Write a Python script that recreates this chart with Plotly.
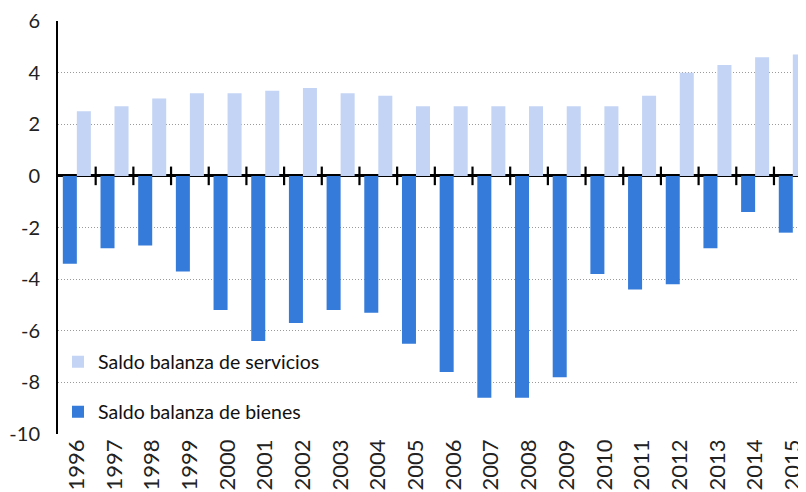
import plotly.graph_objects as go

years = [str(y) for y in range(1996, 2016)]
servicios = [2.5, 2.7, 3.0, 3.2, 3.2, 3.3, 3.4, 3.2, 3.1, 2.7, 2.7, 2.7, 2.7, 2.7, 2.7, 3.1, 4.0, 4.3, 4.6, 4.7]
bienes = [-3.4, -2.8, -2.7, -3.7, -5.2, -6.4, -5.7, -5.2, -5.3, -6.5, -7.6, -8.6, -8.6, -7.8, -3.8, -4.4, -4.2, -2.8, -1.4, -2.2]
y_ticks = [6, 4, 2, 0, -2, -4, -6, -8, -10]

LIGHT = "#C4D4F4"
DARK = "#357BDA"
FONT = "Lato"

fig = go.Figure()
fig.add_trace(go.Bar(x=years, y=bienes, name="Saldo balanza de bienes",
                     marker=dict(color=DARK, line=dict(width=0)), legend="legend2"))
fig.add_trace(go.Bar(x=years, y=servicios, name="Saldo balanza de servicios",
                     marker=dict(color=LIGHT, line=dict(width=0)), legend="legend"))

# category boundary tick marks on the zero line
for i in range(len(years) - 1):
    fig.add_shape(type="line", xref="x", yref="y", x0=i + 0.5, x1=i + 0.5,
                  y0=-0.36, y1=0.36, line=dict(color="black", width=2.2))

legend_style = dict(xanchor="left", yanchor="middle",
                    font=dict(family=FONT, size=19.5, color="#111"),
                    bgcolor="rgba(0,0,0,0)")

# page body has an 8px margin, figure sized to fit the 806x492 window
fig.update_layout(
    width=798, height=484,
    margin=dict(l=50, r=0, t=13, b=58, autoexpand=False),
    paper_bgcolor="white", plot_bgcolor="white",
    barmode="group", bargap=0.256, bargroupgap=0,
    showlegend=True,
    legend=dict(x=0.0, y=0.174, **legend_style),
    legend2=dict(x=0.0, y=0.053, **legend_style),
    font=dict(family=FONT, size=19, color="#222"),
)
fig.update_xaxes(type="category", range=[-0.5, 19.35], tickangle=-90, automargin=False,
                 showgrid=False, showline=False, ticks="",
                 tickfont=dict(family=FONT, size=22, color="#222"))
fig.update_yaxes(range=[-10, 6], tickvals=y_ticks, ticktext=[str(v) for v in y_ticks],
                 automargin=False,
                 showgrid=True, gridcolor="#9a9a9a", griddash="1px,2px", gridwidth=1,
                 zeroline=True, zerolinecolor="black", zerolinewidth=2.5,
                 showline=True, linecolor="black", linewidth=2,
                 ticks="", ticklabelstandoff=12,
                 tickfont=dict(family=FONT, size=20, color="#222"))

fig.write_html("out.html")
